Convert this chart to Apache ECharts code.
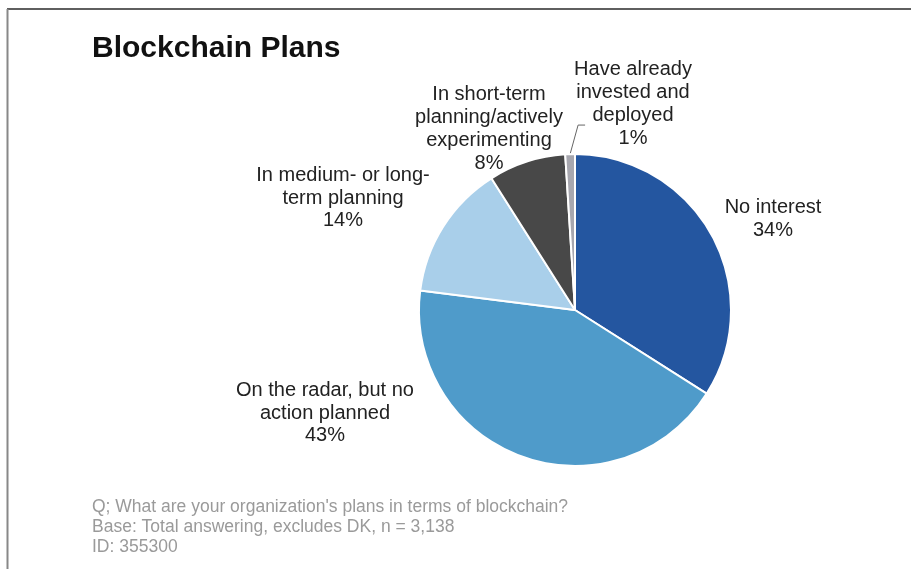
<!DOCTYPE html>
<html>
<head>
<meta charset="utf-8">
<script src="https://cdn.jsdelivr.net/npm/echarts@6/dist/echarts.min.js"></script>
<style>html,body{margin:0;padding:0;background:#fff}#c{width:911px;height:569px}</style>
</head>
<body>
<div id="c"></div>
<script>
const categories = [
  'No interest',
  'On the radar, but no\naction planned',
  'In medium- or long-\nterm planning',
  'In short-term\nplanning/actively\nexperimenting',
  'Have already\ninvested and\ndeployed'
];
const values = [34, 43, 14, 8, 1];
const colors = ['#2456a0', '#4f9bca', '#a9cfea', '#484848', '#a7a7af'];
const labelPos = [[773, 219], [325, 413], [343, 198], [489, 129], [633, 104]];
const titleText = 'Blockchain Plans';
const footnote = "Q; What are your organization's plans in terms of blockchain?\nBase: Total answering, excludes DK, n = 3,138\nID: 355300";

const chart = echarts.init(document.getElementById('c'), null, {renderer: 'canvas'});
chart.setOption({
  backgroundColor: '#fff',
  animation: false,
  title: {
    text: titleText, left: 92, top: 34, padding: 0,
    textStyle: {fontFamily: 'Liberation Sans, Arial, sans-serif', fontSize: 30, fontWeight: 'bold', color: '#111'}
  },
  graphic: [
    {type: 'line', shape: {x1: 7, y1: 9, x2: 911, y2: 9}, style: {stroke: '#2a2a2a', lineWidth: 1.5}},
    {type: 'line', shape: {x1: 7.5, y1: 9, x2: 7.5, y2: 569}, style: {stroke: '#888', lineWidth: 2}},
    {type: 'text', x: 92, y: 497, style: {text: footnote, fill: '#9a9a9a', font: '17.5px "Liberation Sans", Arial, sans-serif', lineHeight: 20, textVerticalAlign: 'top'}}
  ],
  series: [{
    type: 'pie',
    center: [575, 310],
    radius: [0, 156],
    startAngle: 90,
    clockwise: true,
    itemStyle: {borderColor: '#fff', borderWidth: 2},
    label: {
      show: true,
      formatter: p => p.name + '\n' + p.value + '%',
      fontFamily: 'Liberation Sans, Arial, sans-serif',
      fontSize: 20, lineHeight: 22.7, color: '#222', align: 'center'
    },
    labelLine: {show: false},
    labelLayout: params => {
      const i = params.dataIndex;
      const res = {x: labelPos[i][0], y: labelPos[i][1], align: 'center', verticalAlign: 'middle'};
      if (i === 4 && params.labelLinePoints) {
        const s = params.labelLinePoints[0];
        res.labelLinePoints = [[s[0], s[1]], [s[0] + 8, s[1] - 29], [s[0] + 15, s[1] - 29]];
      }
      return res;
    },
    data: categories.map((c, i) => ({
      name: c, value: values[i], itemStyle: {color: colors[i]},
      labelLine: i === 4 ? {show: true, length: 10, length2: 5, lineStyle: {color: '#666', width: 1}} : {show: false}
    }))
  }]
});
</script>
</body>
</html>
